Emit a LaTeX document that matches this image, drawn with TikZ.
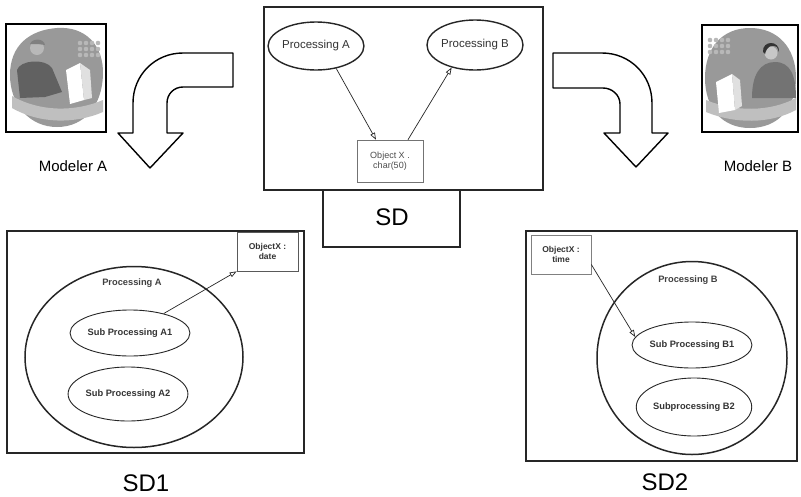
\documentclass[tikz,border=0pt]{standalone}
\usepackage{fontspec}
\setmainfont{Liberation Sans}
\usetikzlibrary{shapes.geometric,arrows.meta}

\tikzset{
  frame/.style={draw=black!85, line width=1.5pt},
  proc/.style={ellipse, draw=black!85, line width=1.4pt, inner sep=0pt, font=\fontsize{11.5}{13}\selectfont, text=black!80},
  subproc/.style={ellipse, draw=black!85, line width=0.9pt, inner sep=0pt, font=\bfseries\fontsize{9.3}{10}\selectfont, text=black!80},
  bigproc/.style={ellipse, draw=black!85, line width=1.5pt, inner sep=0pt},
  objbox/.style={draw=black!55, line width=0.6pt, inner sep=0pt, align=center, font=\fontsize{9}{10.5}\selectfont, text=black!70},
  objboxb/.style={draw=black!65, line width=0.7pt, inner sep=0pt, align=center, font=\bfseries\fontsize{8.5}{10.5}\selectfont, text=black!80},
  conn/.style={draw=black!85, line width=0.7pt, -{Triangle[open, length=7pt, width=5pt]}},
  bigarrow/.style={draw=black, line width=1.4pt, fill=white, line join=round},
  modeler/.style={font=\fontsize{15}{17}\selectfont},
  sdlabel/.style={font=\fontsize{24}{26}\selectfont},
  inlabel/.style={font=\bfseries\fontsize{9.3}{10}\selectfont, text=black!75},
}

\begin{document}
\begin{tikzpicture}[x=1pt,y=-1pt]
\useasboundingbox (0,0) rectangle (801,496);
\fill[white] (0,0) rectangle (801,496);

% ---------- shared diagram SD ----------
\draw[frame] (323,190) rectangle (460,247);
\node[sdlabel] (sdl) at (392,217) {SD};
\draw[frame, fill=white] (264,7) rectangle (543,190);
\node[proc, minimum width=94pt, minimum height=48pt] (pa) at (316,46) {Processing A};
\node[proc, minimum width=96pt, minimum height=50pt] (pb) at (475,45) {Processing B};
\node[objbox, minimum width=66pt, minimum height=42pt] (ox) at (390,161) {Object X .\\char(50)};
\draw[conn] (pa.312) -- ([xshift=-14pt]ox.north);
\draw[conn] ([xshift=18pt]ox.north) -- (pb.224);

% ---------- modeler A picture ----------
\begin{scope}
  \clip (6,24) rectangle (106,132);
  \fill[black!40] (57,28) .. controls (85,26) and (104,45) .. (103,75)
        .. controls (102,105) and (85,127) .. (57,127)
        .. controls (30,127) and (10,105) .. (10,75)
        .. controls (10,45) and (30,30) .. (57,28) -- cycle;
  \foreach \i in {0,1,2,3} \foreach \j in {0,1,2}
    \fill[black!28] (80+6*\i,43+6*\j) circle (2.3pt);
  \fill[black!25] (12,96) .. controls (40,112) and (75,112) .. (103,100)
        -- (103,112) .. controls (75,124) and (40,124) .. (12,108) -- cycle;
  \fill[black!62] (17,70) .. controls (20,60) and (45,58) .. (52,68)
        -- (62,92) -- (45,97) -- (20,98) -- cycle;
  \fill[black!28] (37,48) circle (7pt);
  \fill[black!50] (30,44) .. controls (32,38) and (44,38) .. (45,45) -- (38,44) -- cycle;
  \fill[white] (66,70) -- (80,63) -- (84,100) -- (70,104) -- cycle;
  \fill[black!12] (80,63) -- (90,70) -- (92,98) -- (84,100) -- cycle;
\end{scope}
\draw[black, line width=1.3pt] (6,24) rectangle (106,132);
\node[modeler] (ma) at (73,166) {Modeler A};

% ---------- modeler B picture ----------
\begin{scope}
  \clip (702,25) rectangle (798,132);
  \fill[black!40] (750,28) .. controls (778,28) and (796,48) .. (796,78)
        .. controls (796,108) and (778,128) .. (750,128)
        .. controls (722,128) and (705,108) .. (705,78)
        .. controls (705,48) and (722,28) .. (750,28) -- cycle;
  \foreach \i in {0,1,2,3} \foreach \j in {0,1,2}
    \fill[black!28] (710+6*\i,40+6*\j) circle (2.3pt);
  \fill[black!25] (706,100) .. controls (735,112) and (770,112) .. (796,98)
        -- (796,110) .. controls (770,124) and (735,124) .. (706,112) -- cycle;
  \fill[black!55] (752,98) .. controls (752,75) and (760,62) .. (775,62)
        .. controls (790,62) and (796,75) .. (796,98) -- cycle;
  \fill[black!22] (771,53) circle (6.5pt);
  \fill[black!80] (763,52) .. controls (762,40) and (780,40) .. (779,52)
        -- (777,47) .. controls (772,44) and (767,46) .. (765,54) -- cycle;
  \fill[white] (716,82) -- (732,74) -- (735,110) -- (719,113) -- cycle;
  \fill[black!12] (732,74) -- (740,80) -- (742,106) -- (735,110) -- cycle;
\end{scope}
\draw[black, line width=1.3pt] (702,25) rectangle (798,132);
\node[modeler] (mb) at (758,166) {Modeler B};

% ---------- bent arrows ----------
\draw[bigarrow] (233,53) -- (183,53) .. controls (155,53) and (133,75) .. (133,103)
      -- (133,133) -- (118,133) -- (150,168) -- (183,133) -- (167,133) -- (167,103)
      .. controls (167,94) and (174,87) .. (183,87) -- (233,87) -- cycle;
\draw[bigarrow] (553,53) -- (602,53) .. controls (630,53) and (652,75) .. (652,103)
      -- (652,133) -- (668,133) -- (636,167) -- (604,133) -- (620,133) -- (620,104)
      .. controls (620,95) and (612,88) .. (603,88) -- (553,88) -- cycle;

% ---------- SD1 ----------
\draw[frame] (7,231) rectangle (304,453);
\node[bigproc, minimum width=218pt, minimum height=181pt] (bpa) at (134,357) {};
\node[inlabel] (lpa) at (132,283) {Processing A};
\node[subproc, minimum width=104pt, minimum height=46pt] (a1) at (130,333) {Sub Processing A1};
\node[subproc, minimum width=98pt, minimum height=54pt] (a2) at (128,394) {Sub Processing A2};
\node[objboxb, minimum width=61pt, minimum height=39pt] (dbox) at (267.5,251.5) {ObjectX :\\date};
\draw[conn] (a1.30) -- (dbox.south west);
\node[sdlabel] (sd1) at (146,483) {SD1};

% ---------- SD2 ----------
\draw[frame] (526,231) rectangle (797,461);
\node[bigproc, minimum width=190pt, minimum height=193pt] (bpb) at (692,358) {};
\node[inlabel] (lpb) at (688,280) {Processing B};
\node[subproc, minimum width=101pt, minimum height=46pt] (b1) at (692,345) {Sub Processing B1};
\node[subproc, minimum width=98pt, minimum height=58pt] (b2) at (694,407) {Subprocessing B2};
\node[objboxb, draw=black!50, minimum width=60pt, minimum height=39pt] (tbox) at (561,254.5) {ObjectX :\\time};
\draw[conn] ([yshift=-10pt]tbox.east) -- (b1.172);
\node[sdlabel] (sd2) at (665,482) {SD2};

\end{tikzpicture}
\end{document}
